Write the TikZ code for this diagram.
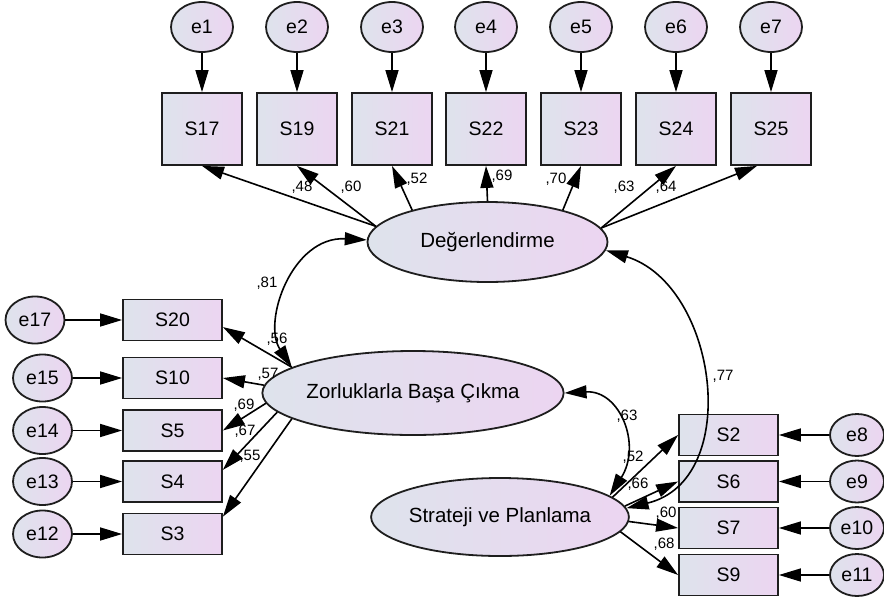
\documentclass[tikz,border=0pt]{standalone}
\usepackage{fontspec}
\setmainfont{Liberation Sans}
\usetikzlibrary{shapes.geometric,arrows.meta}
\definecolor{fillA}{HTML}{DEE3EC}
\definecolor{fillB}{HTML}{ECD5F1}
\definecolor{edgec}{HTML}{1E1E1E}
\begin{document}
\begin{tikzpicture}[x=1pt,y=-1pt,
  obs/.style={draw=edgec,line width=1.8pt,rectangle,left color=fillA,right color=fillB,inner sep=0pt,font=\fontsize{19.5}{20}\selectfont},
  topbox/.style={obs,minimum width=80pt,minimum height=72pt},
  sidebox/.style={obs,minimum width=99pt,minimum height=41pt},
  errtop/.style={draw=edgec,line width=1.8pt,ellipse,left color=fillA,right color=fillB,inner sep=0pt,minimum width=62pt,minimum height=50pt,font=\fontsize{19.5}{20}\selectfont},
  errleft/.style={errtop,minimum width=59pt,minimum height=47pt},
  errright/.style={errtop,minimum width=54pt,minimum height=42pt},
  lat/.style={draw=edgec,line width=1.8pt,ellipse,left color=fillA,right color=fillB,inner sep=0pt,font=\fontsize{20.5}{21}\selectfont},
  arr/.style={line width=1.6pt,-{Triangle[length=22pt,width=13pt]}},
  darr/.style={line width=1.6pt,{Triangle[length=22pt,width=13pt]}-{Triangle[length=22pt,width=13pt]}},
  lbl/.style={inner sep=0pt,anchor=base,font=\fontsize{15}{15}\selectfont}]
\useasboundingbox (0,0) rectangle (884,603);

% top indicators
\node[topbox] (S17) at (202,129) {S17};
\node[topbox] (S19) at (297,129) {S19};
\node[topbox] (S21) at (392,129) {S21};
\node[topbox] (S22) at (486,129) {S22};
\node[topbox] (S23) at (581,129) {S23};
\node[topbox] (S24) at (676,129) {S24};
\node[topbox] (S25) at (771,129) {S25};
\node[errtop] (e1) at (202,27) {e1};
\node[errtop] (e2) at (297,27) {e2};
\node[errtop] (e3) at (392,27) {e3};
\node[errtop] (e4) at (486,27) {e4};
\node[errtop] (e5) at (581,27) {e5};
\node[errtop] (e6) at (676,27) {e6};
\node[errtop] (e7) at (771,27) {e7};
\foreach \e/\s in {e1/S17,e2/S19,e3/S21,e4/S22,e5/S23,e6/S24,e7/S25}
  \draw[arr] (\e) -- (\s);

% latent variables
\node[lat,minimum width=240pt,minimum height=80pt] (D) at (487.5,242) {Değerlendirme};
\node[lat,minimum width=250pt,minimum height=84pt] (Z) at (413,393) {Zorluklarla Başa Çıkma};
\node[lat,minimum width=256pt,minimum height=78pt] (P) at (500,517) {Strateji ve Planlama};

% left indicators
\node[sidebox] (S20) at (172.5,320) {S20};
\node[sidebox] (S10) at (172.5,378) {S10};
\node[sidebox] (S5) at (172.5,430.5) {S5};
\node[sidebox] (S4) at (172.5,481.5) {S4};
\node[sidebox] (S3) at (172.5,534) {S3};
\node[errleft] (e17) at (35,320) {e17};
\node[errleft] (e15) at (42.5,378) {e15};
\node[errleft] (e14) at (42.5,430.5) {e14};
\node[errleft] (e13) at (42.5,481.5) {e13};
\node[errleft] (e12) at (42.5,534) {e12};
\foreach \e/\s in {e17/S20,e15/S10,e14/S5,e13/S4,e12/S3}
  \draw[arr] (\e) -- (\s);

% right indicators
\node[sidebox] (S2) at (728.5,435) {S2};
\node[sidebox] (S6) at (728.5,481.5) {S6};
\node[sidebox] (S7) at (728.5,528) {S7};
\node[sidebox] (S9) at (728.5,575) {S9};
\node[errright] (e8) at (857,435) {e8};
\node[errright] (e9) at (857,481.5) {e9};
\node[errright] (e10) at (857,528) {e10};
\node[errright] (e11) at (857,575) {e11};
\foreach \e/\s in {e8/S2,e9/S6,e10/S7,e11/S9}
  \draw[arr] (\e) -- (\s);

% loadings of Degerlendirme
\draw[arr] (D.172.5) -- (S17.south);
\draw[arr] (D.172.5) -- (S19.south);
\draw[arr] (D.157) -- (S21.south);
\draw[arr] (D.90) -- (S22.south);
\draw[arr] (D.23) -- (S23.south);
\draw[arr] (D.7.4) -- (S24.south);
\draw[arr] (D.7.4) -- ([xshift=-14pt]S25.south);

% loadings of Zorluklarla
\draw[arr] (Z.168.7) -- (S20.-8);
\draw[arr] (Z.177.7) -- (S10.east);
\draw[arr] (Z.184.2) -- (S5.east);
\draw[arr] (Z.188.3) -- (S4.13);
\draw[arr] (Z.192.3) -- (S3.19);

% loadings of Strateji
\draw[arr] (P.10.7) -- (S2.west);
\draw[arr] (P.5.5) -- (S6.west);
\draw[arr] (P.-2.3) -- (S7.west);
\draw[arr] (P.-7.5) -- (S9.west);

% covariances
\draw[darr] (D.179) .. controls (292,236) and (262,322) .. (Z.168.7);
\draw[darr] (D.-4) .. controls (718,285) and (743,480) .. (P.4.6);
\draw[darr] (Z.0) .. controls (620,390) and (642,445) .. (P.11);

% labels
\node[lbl] (l48) at (302,191) {,48};
\node[lbl] (l60a) at (351,191) {,60};
\node[lbl] (l52a) at (417,183) {,52};
\node[lbl] (l69a) at (502,180) {,69};
\node[lbl] (l70) at (556,183) {,70};
\node[lbl] (l63a) at (624,191) {,63};
\node[lbl] (l64) at (666,191) {,64};
\node[lbl] (l81) at (267,287) {,81};
\node[lbl] (l56) at (277,343) {,56};
\node[lbl] (l57) at (268,378) {,57};
\node[lbl] (l69b) at (244,409) {,69};
\node[lbl] (l67) at (245,435) {,67};
\node[lbl] (l55) at (250,460) {,55};
\node[lbl] (l77) at (723,380) {,77};
\node[lbl] (l63b) at (627,420) {,63};
\node[lbl] (l52b) at (633,461) {,52};
\node[lbl] (l66) at (638,488) {,66};
\node[lbl] (l60b) at (666,517) {,60};
\node[lbl] (l68) at (664,548) {,68};
\end{tikzpicture}
\end{document}
